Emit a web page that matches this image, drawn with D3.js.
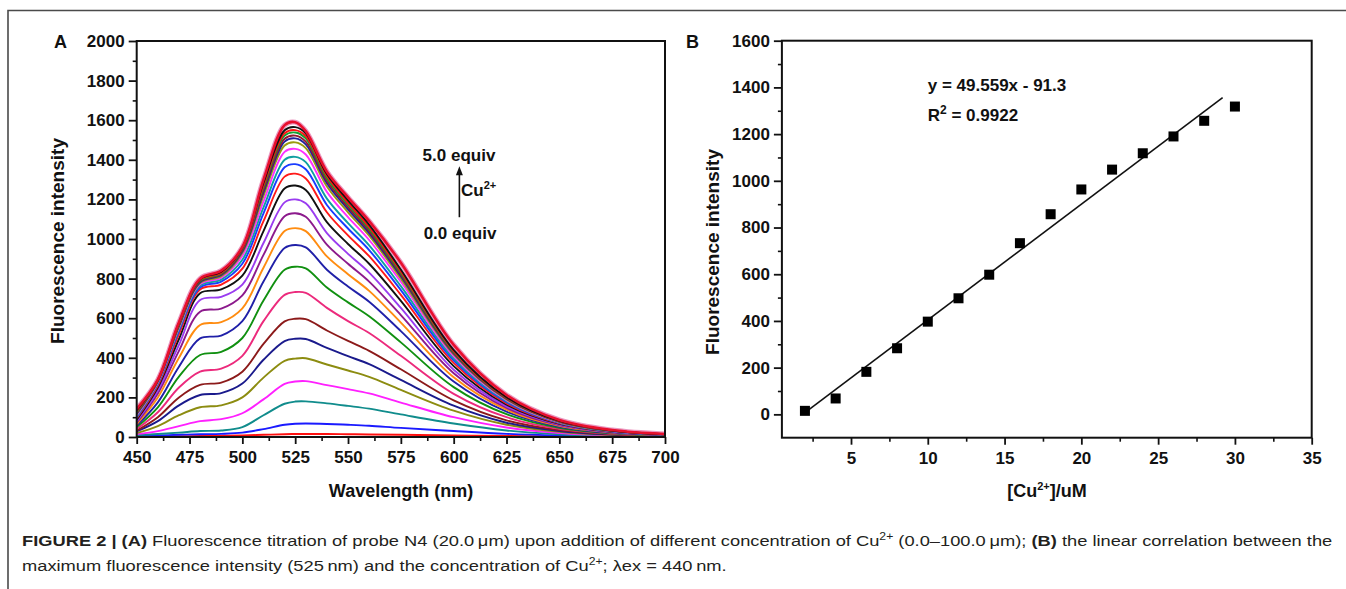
<!DOCTYPE html>
<html>
<head>
<meta charset="utf-8">
<script src="https://cdn.jsdelivr.net/npm/d3@7"></script>
<style>
    body { margin: 0; background: #fff; }
    svg text { font-family: "Liberation Sans", Arial, sans-serif; }
    .tick text { font-weight: bold; font-size: 17px; fill: #111; }
    .axis-title { font-weight: bold; font-size: 18px; fill: #111; }
    .axis-title.vert { font-size: 19px; }
    .note { font-weight: bold; font-size: 17px; fill: #111; }
    .caption { font-size: 15px; fill: #231f20; }
</style>
</head>
<body>
<svg id="fig" width="1346" height="589"></svg>
<script>
// ---- Panel A: emission spectra (bottom curve first) ----
const wavelengths = [450, 460, 470, 480, 490, 500, 510, 520, 525, 530, 540, 550, 560, 575, 600, 625, 650, 675, 700];

const spectra = [
    [2, 3, 4, 5, 6, 8, 11, 14, 15, 15, 15, 14, 13, 11, 8, 5, 3, 2, 1],
    [5, 8, 11, 14, 16, 22, 40, 62, 67, 68, 66, 62, 57, 46, 30, 16, 8, 4, 2],
    [10, 15, 22, 30, 33, 50, 110, 168, 179, 180, 170, 157, 143, 114, 68, 33, 14, 6, 3],
    [15, 30, 55, 80, 90, 120, 190, 268, 280, 282, 262, 242, 220, 174, 100, 48, 20, 8, 4],
    [20, 55, 110, 150, 160, 200, 300, 385, 396, 398, 366, 336, 304, 238, 133, 62, 26, 10, 5],
    [28, 80, 160, 212, 222, 270, 390, 484, 496, 495, 450, 408, 368, 288, 158, 72, 30, 12, 5],
    [32, 100, 200, 263, 275, 330, 470, 584, 597, 595, 538, 485, 435, 342, 185, 84, 35, 14, 6],
    [40, 125, 250, 330, 345, 410, 585, 718, 732, 728, 652, 585, 525, 410, 218, 100, 41, 16, 7],
    [50, 150, 305, 414, 430, 500, 690, 845, 860, 852, 755, 680, 610, 478, 252, 115, 47, 19, 8],
    [58, 175, 355, 498, 512, 585, 785, 955, 970, 958, 845, 760, 683, 535, 280, 128, 52, 21, 9],
    [65, 200, 400, 566, 580, 650, 855, 1040, 1055, 1040, 912, 822, 738, 578, 302, 138, 56, 22, 10],
    [72, 220, 435, 633, 648, 715, 920, 1115, 1130, 1112, 972, 875, 785, 616, 322, 147, 60, 24, 10],
    [80, 235, 465, 692, 708, 770, 980, 1185, 1200, 1180, 1030, 925, 830, 652, 340, 155, 63, 25, 11],
    [88, 250, 495, 726, 745, 815, 1040, 1255, 1270, 1248, 1085, 975, 875, 688, 358, 163, 66, 26, 11],
    [95, 260, 520, 745, 770, 850, 1090, 1315, 1330, 1306, 1135, 1018, 913, 718, 374, 170, 69, 27, 12],
    [100, 268, 535, 755, 785, 875, 1130, 1362, 1378, 1352, 1172, 1053, 944, 742, 387, 176, 71, 28, 12],
    [105, 272, 545, 765, 795, 895, 1160, 1400, 1415, 1388, 1204, 1080, 968, 762, 397, 181, 73, 29, 12],
    [110, 276, 552, 772, 805, 915, 1190, 1440, 1455, 1427, 1238, 1110, 995, 784, 408, 186, 75, 30, 13],
    [115, 280, 558, 778, 812, 930, 1218, 1472, 1488, 1459, 1265, 1135, 1017, 800, 417, 190, 77, 31, 13],
    [118, 282, 562, 782, 818, 938, 1235, 1492, 1508, 1478, 1282, 1150, 1030, 812, 422, 193, 78, 31, 13],
    [122, 284, 565, 786, 822, 944, 1248, 1506, 1522, 1492, 1294, 1161, 1040, 820, 426, 195, 79, 32, 14],
    [126, 285, 568, 790, 826, 950, 1262, 1522, 1538, 1508, 1307, 1173, 1051, 828, 430, 197, 80, 32, 14],
    [130, 286, 572, 794, 830, 954, 1272, 1534, 1550, 1520, 1318, 1182, 1060, 836, 434, 198, 80, 33, 14],
    [135, 288, 576, 797, 835, 957, 1284, 1549, 1565, 1534, 1328, 1195, 1072, 846, 440, 201, 81, 33, 14],
    [142, 290, 580, 800, 840, 960, 1300, 1575, 1590, 1545, 1340, 1210, 1090, 880, 465, 212, 86, 35, 15]
];

const spectrumColors = [
    '#ff1010', '#1a1aff', '#108c8c', '#ff20ff', '#8c8c10', '#1a1a8c', '#8c1a1a', '#ec2a7c',
    '#109010', '#2020a8', '#ff8c10', '#8c1a8c', '#9a3cf0', '#111111', '#ff1a1a', '#1a3cff',
    '#10a0a0', '#ff30ff', '#9a9a10', '#20209a', '#901a30', '#10a030', '#ff1010', '#111111', '#e8102e'
];

const xTicksA = [450, 475, 500, 525, 550, 575, 600, 625, 650, 675, 700];
const yTicksA = [0, 200, 400, 600, 800, 1000, 1200, 1400, 1600, 1800, 2000];

// ---- Panel B: calibration ----
const cuConc = [2, 4, 6, 8, 10, 12, 14, 16, 18, 20, 22, 24, 26, 28, 30];
const peakIntensity = [15, 68, 182, 283, 397, 497, 598, 733, 857, 963, 1048, 1118, 1190, 1257, 1318];
const fitSlope = 49.559;
const fitIntercept = -91.3;
const fitRange = [2, 29.2];

const xTicksB = [5, 10, 15, 20, 25, 30, 35];
const yTicksB = [0, 200, 400, 600, 800, 1000, 1200, 1400, 1600];

const svg = d3.select('#fig');

// outer figure border (top and left only, as cropped)
svg.append('path')
    .attr('d', 'M8,589 V10.5 H1346')
    .attr('fill', 'none')
    .attr('stroke', '#4a4a4a')
    .attr('stroke-width', 1.6);

function midpoints(ticks)
{
    return ticks.slice(0, -1).map((t, i) => (t + ticks[i + 1]) / 2);
}

// writes text with bold / superscript segments into a text node
function richText(sel, parts, supSize, rise)
{
    let raised = false;
    parts.forEach(p => {
        const ts = sel.append('tspan').text(p.t);
        if (p.sup) {
            ts.attr('dy', -rise).attr('font-size', supSize);
            raised = true;
        } else {
            if (raised) ts.attr('dy', rise);
            raised = false;
            if (p.b) ts.attr('font-weight', 'bold');
        }
    });
    return sel;
}

function drawFrame(g, x, y, xTicks, yTicks, xMinor, yMinor)
{
    const [x0, x1] = x.range();
    const [y0, y1] = y.range();

    g.append('g')
        .attr('transform', `translate(0,${y0})`)
        .call(d3.axisBottom(x).tickValues(xMinor).tickSize(4).tickFormat(''))
        .call(a => a.select('.domain').remove())
        .selectAll('line').attr('stroke', '#111').attr('stroke-width', 1.6);

    g.append('g')
        .attr('transform', `translate(${x0},0)`)
        .call(d3.axisLeft(y).tickValues(yMinor).tickSize(4).tickFormat(''))
        .call(a => a.select('.domain').remove())
        .selectAll('line').attr('stroke', '#111').attr('stroke-width', 1.6);

    const xAxis = g.append('g')
        .attr('transform', `translate(0,${y0})`)
        .call(d3.axisBottom(x).tickValues(xTicks).tickSize(7).tickPadding(7).tickFormat(d3.format('d')));
    xAxis.select('.domain').remove();
    xAxis.selectAll('line').attr('stroke', '#111').attr('stroke-width', 1.8);

    const yAxis = g.append('g')
        .attr('transform', `translate(${x0},0)`)
        .call(d3.axisLeft(y).tickValues(yTicks).tickSize(8).tickPadding(4).tickFormat(d3.format('d')));
    yAxis.select('.domain').remove();
    yAxis.selectAll('line').attr('stroke', '#111').attr('stroke-width', 1.8);

    g.append('rect')
        .attr('x', x0)
        .attr('y', y1)
        .attr('width', x1 - x0)
        .attr('height', y0 - y1)
        .attr('fill', 'none')
        .attr('stroke', '#111')
        .attr('stroke-width', 2);
}

function drawSpectra()
{
    const g = svg.append('g');
    const x = d3.scaleLinear().domain([450, 700]).range([136.7, 665]);
    const y = d3.scaleLinear().domain([0, 2000]).range([437, 41]);

    svg.append('clipPath').attr('id', 'clipA')
        .append('rect')
        .attr('x', 136.7).attr('y', 41)
        .attr('width', 665 - 136.7).attr('height', 437 - 41);

    const line = d3.line()
        .x(d => x(d[0]))
        .y(d => y(d[1]))
        .curve(d3.curveCatmullRom.alpha(0.5));

    const curves = g.append('g').attr('clip-path', 'url(#clipA)');
    const last = spectra.length - 1;

    // pinkish halo under the topmost spectrum
    curves.append('path')
        .attr('d', line(wavelengths.map((w, i) => [w, spectra[last][i]])))
        .attr('fill', 'none')
        .attr('stroke', '#d8408a')
        .attr('stroke-opacity', 0.55)
        .attr('stroke-width', 5);

    curves.selectAll('path.spec')
        .data(spectra)
        .join('path')
        .attr('class', 'spec')
        .attr('d', s => line(wavelengths.map((w, i) => [w, s[i]])))
        .attr('fill', 'none')
        .attr('stroke', (s, i) => spectrumColors[i])
        .attr('stroke-width', (s, i) => i === last ? 2.6 : 1.9);

    drawFrame(g, x, y, xTicksA, yTicksA, midpoints(xTicksA), midpoints(yTicksA));

    g.append('text').attr('class', 'axis-title')
        .attr('x', 401).attr('y', 497)
        .attr('text-anchor', 'middle')
        .text('Wavelength (nm)');

    g.append('text').attr('class', 'axis-title vert')
        .attr('transform', 'translate(64,241) rotate(-90)')
        .attr('text-anchor', 'middle')
        .text('Fluorescence intensity');

    g.append('text').attr('class', 'axis-title')
        .attr('x', 54).attr('y', 48)
        .text('A');

    // titration annotation
    g.append('text').attr('class', 'note')
        .attr('x', x(602.5)).attr('y', y(1392))
        .attr('text-anchor', 'middle')
        .text('5.0 equiv');

    g.append('text').attr('class', 'note')
        .attr('x', x(603)).attr('y', y(998))
        .attr('text-anchor', 'middle')
        .text('0.0 equiv');

    richText(
        g.append('text').attr('class', 'note')
            .attr('x', x(603.5)).attr('y', y(1215)),
        [{ t: 'Cu' }, { t: '2+', sup: true }],
        11, 7
    );

    const ax = x(602.7);
    g.append('line')
        .attr('x1', ax).attr('x2', ax)
        .attr('y1', y(1110)).attr('y2', y(1345))
        .attr('stroke', '#111')
        .attr('stroke-width', 1.6);
    g.append('path')
        .attr('d', `M${ax},${y(1368)} l-3.5,9 h7 z`)
        .attr('fill', '#111');
}

function drawCalibration()
{
    const g = svg.append('g');
    const x = d3.scaleLinear().domain([0.5, 35]).range([781.9, 1311.7]);
    const y = d3.scaleLinear().domain([-100, 1600]).range([437.7, 40.7]);

    drawFrame(g, x, y, xTicksB, yTicksB, [2.5].concat(midpoints(xTicksB)), midpoints(yTicksB));

    g.append('line')
        .attr('x1', x(fitRange[0]))
        .attr('y1', y(fitSlope * fitRange[0] + fitIntercept))
        .attr('x2', x(fitRange[1]))
        .attr('y2', y(fitSlope * fitRange[1] + fitIntercept))
        .attr('stroke', '#111')
        .attr('stroke-width', 1.6);

    g.selectAll('rect.pt')
        .data(cuConc)
        .join('rect')
        .attr('class', 'pt')
        .attr('x', (d, i) => x(d) - 5)
        .attr('y', (d, i) => y(peakIntensity[i]) - 5)
        .attr('width', 10)
        .attr('height', 10)
        .attr('fill', '#000');

    g.append('text').attr('class', 'note')
        .attr('x', x(10)).attr('y', y(1385))
        .text(`y = ${fitSlope}x - ${Math.abs(fitIntercept)}`);

    richText(
        g.append('text').attr('class', 'note')
            .attr('x', x(10)).attr('y', y(1255)),
        [{ t: 'R' }, { t: '2', sup: true }, { t: ' = 0.9922' }],
        12, 7
    );

    richText(
        g.append('text').attr('class', 'axis-title')
            .attr('x', 1047).attr('y', 497)
            .attr('text-anchor', 'middle'),
        [{ t: '[Cu' }, { t: '2+', sup: true }, { t: ']/uM' }],
        11, 7
    );

    g.append('text').attr('class', 'axis-title vert')
        .attr('transform', 'translate(719,252) rotate(-90)')
        .attr('text-anchor', 'middle')
        .text('Fluorescence intensity');

    g.append('text').attr('class', 'axis-title')
        .attr('x', 686).attr('y', 48)
        .text('B');
}

function drawCaption()
{
    const line1 = [
        { t: 'FIGURE 2 | (A)', b: true },
        { t: ' Fluorescence titration of probe N4 (20.0\u2009\u03bcm) upon addition of different concentration of Cu' },
        { t: '2+', sup: true },
        { t: ' (0.0\u2013100.0\u2009\u03bcm); ' },
        { t: '(B)', b: true },
        { t: ' the linear correlation between the' }
    ];
    const line2 = [
        { t: 'maximum fluorescence intensity (525\u2009nm) and the concentration of Cu' },
        { t: '2+', sup: true },
        { t: '; \u03bbex = 440\u2009nm.' }
    ];

    const t1 = richText(svg.append('text').attr('class', 'caption'), line1, 10, 6);
    const t2 = richText(svg.append('text').attr('class', 'caption'), line2, 10, 6);

    // squeeze to the narrow caption face of the original
    const k = 1311 / t1.node().getBBox().width;
    t1.attr('transform', `translate(22,546) scale(${k},1)`);
    t2.attr('transform', `translate(22,571) scale(${k},1)`);
}

drawSpectra();
drawCalibration();
drawCaption();
</script>
</body>
</html>
